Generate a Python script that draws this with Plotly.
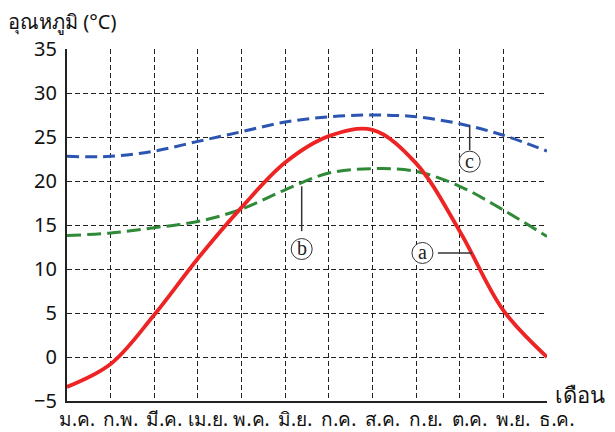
import plotly.graph_objects as go

months = ["ม.ค.", "ก.พ.", "มี.ค.", "เม.ย.", "พ.ค.", "มิ.ย.", "ก.ค.", "ส.ค.", "ก.ย.", "ต.ค.", "พ.ย.", "ธ.ค."]
temp_a = [-3.4, -0.8, 4.8, 11.2, 17.0, 22.1, 25.1, 25.8, 22.0, 14.3, 5.3, 0.0]
temp_b = [13.8, 14.1, 14.7, 15.4, 16.8, 19.0, 20.9, 21.4, 21.1, 19.4, 16.7, 13.7]
temp_c = [22.8, 22.8, 23.4, 24.5, 25.6, 26.7, 27.3, 27.5, 27.3, 26.5, 25.2, 23.4]
y_ticks = [-5, 0, 5, 10, 15, 20, 25, 30, 35]

xs = list(range(len(months)))

fig = go.Figure()
fig.add_trace(go.Scatter(x=xs, y=temp_c, mode="lines", line=dict(color="#2c55b2", width=3, dash="12px,6px", shape="spline", smoothing=1.0), hoverinfo="skip"))
fig.add_trace(go.Scatter(x=xs, y=temp_b, mode="lines", line=dict(color="#2e8a37", width=3, dash="14px,6px", shape="spline", smoothing=1.0), hoverinfo="skip"))
fig.add_trace(go.Scatter(x=xs, y=temp_a, mode="lines", line=dict(color="#ee2424", width=3.8, shape="spline", smoothing=1.0), hoverinfo="skip"))

# annotation markers (circle + leader line)
labels = [
    ("a", 8.146, 11.82, [(8.50, 11.82), (9.28, 11.82)]),
    ("b", 5.378, 12.27, [(5.378, 19.4), (5.378, 14.3)]),
    ("c", 9.228, 22.2, [(9.228, 26.3), (9.228, 23.5)]),
]
for txt, cx, cy, ln in labels:
    fig.add_shape(type="line", xref="x", yref="y", x0=ln[0][0], y0=ln[0][1], x1=ln[1][0], y1=ln[1][1],
                  line=dict(color="#333333", width=1.5))
    fig.add_shape(type="circle", xref="x", yref="y", xsizemode="pixel", ysizemode="pixel",
                  xanchor=cx, yanchor=cy, x0=-10.5, x1=10.5, y0=-10.5, y1=10.5,
                  line=dict(color="#333333", width=1), fillcolor="white")
    fig.add_annotation(x=cx, y=cy, xref="x", yref="y", text=txt, showarrow=False,
                       font=dict(family="Liberation Serif", size=20, color="#222"), yshift=1)

fig.add_annotation(xref="paper", yref="paper", x=(553 - 67) / 480, y=0.02, xanchor="left", yanchor="middle",
                   text="เดือน", showarrow=False, font=dict(size=22, color="#111"))
fig.add_annotation(xref="paper", yref="paper", x=(6 - 67) / 480, y=1.078, xanchor="left", yanchor="middle",
                   text="อุณหภูมิ (°C)", showarrow=False, font=dict(size=20, color="#111"))

grid = dict(showgrid=True, gridcolor="#222222", gridwidth=1, griddash="5px,3px", zeroline=False)
fig.update_xaxes(range=[0, 11], tickvals=xs, ticktext=months, ticks="", showline=True, linecolor="#222",
                 linewidth=2, ticklabelshift=10, automargin=False, tickfont=dict(size=19, color="#111"), **grid)
fig.update_yaxes(range=[-5, 35], tickvals=y_ticks, ticks="", showline=True, linecolor="#222",
                 linewidth=2, ticklabelstandoff=4, automargin=False, tickfont=dict(size=20, color="#111"), **grid)

# page body has an 8px default margin, so the figure is 8px smaller and margins reduced by 8
fig.update_layout(width=607, height=424, margin=dict(l=59, r=68, t=41, b=31, autoexpand=False),
                  plot_bgcolor="white", paper_bgcolor="white", showlegend=False,
                  font=dict(family="Noto Sans, sans-serif"))
fig.write_html("out.html")
